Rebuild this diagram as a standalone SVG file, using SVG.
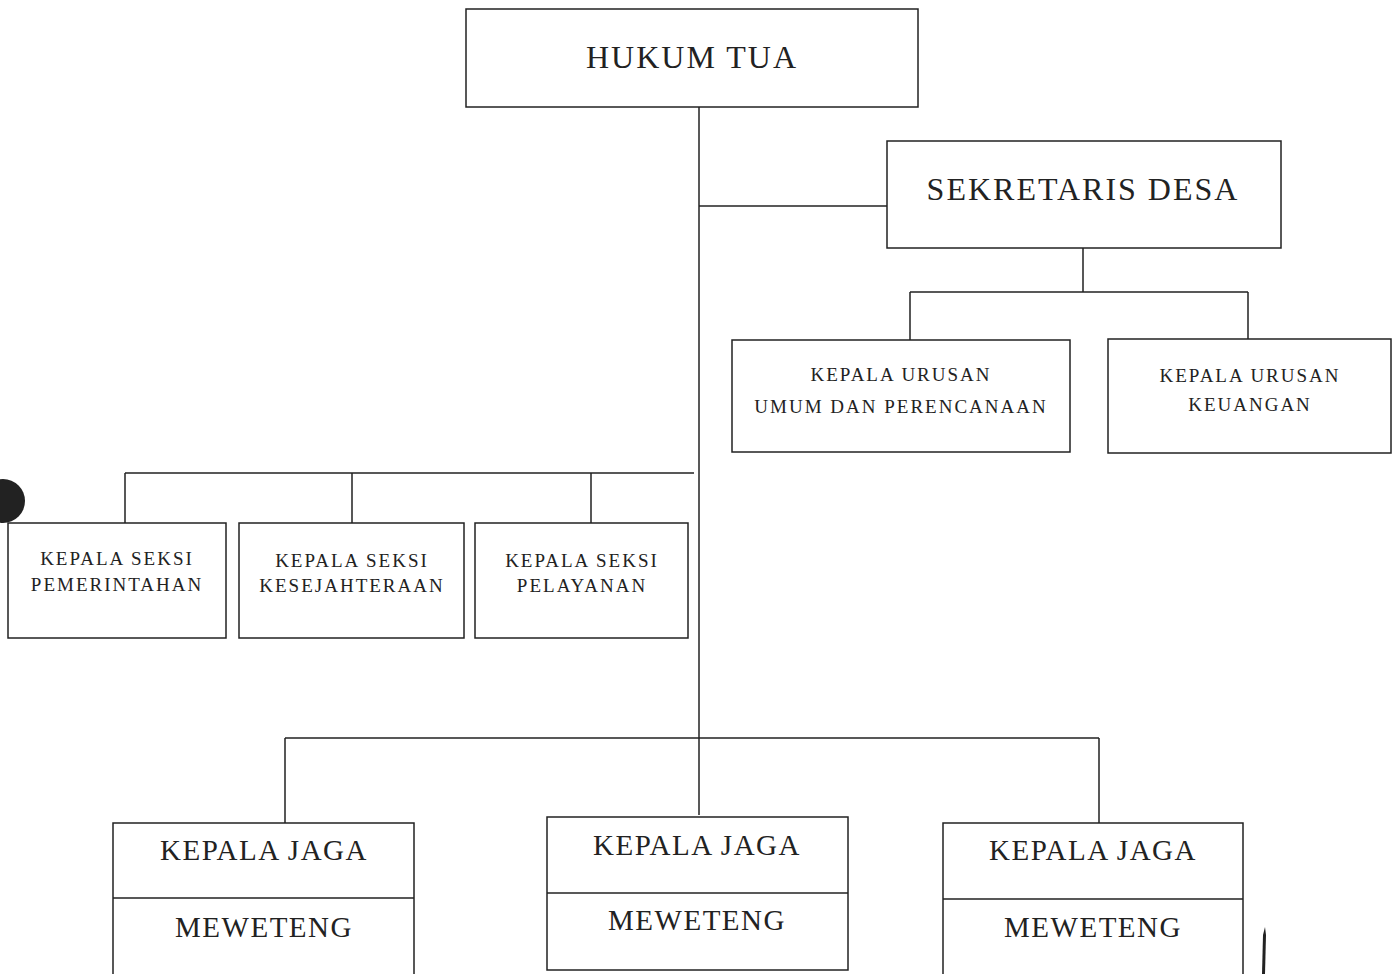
<svg xmlns="http://www.w3.org/2000/svg" width="1393" height="974" viewBox="0 0 1393 974">
<style>
.box{fill:#fff;stroke:#222;stroke-width:1.5}
.ln{fill:none;stroke:#222;stroke-width:1.5}
.t{font-family:"Liberation Serif","Times New Roman",serif;fill:#222;text-anchor:middle}
.big{font-size:32px;letter-spacing:2px}
.mid{font-size:29px;letter-spacing:1.5px}
.sm{font-size:19px;letter-spacing:2px}
</style>
<rect width="1393" height="974" fill="#fff"/>
<g id="connectors">
<path class="ln" d="M699 107V815"/>
<path class="ln" d="M699 206H887"/>
<path class="ln" d="M1083 248V292M910 292H1248M910 292V340M1248 292V339"/>
<path class="ln" d="M125 473H694M125 473V523M352 473V523M591 473V523"/>
<path class="ln" d="M285 738H1099M285 738V823M1099 738V823"/>
</g>
<g id="hukum-tua">
<rect class="box" x="466" y="9" width="452" height="98"/>
<text class="t big" x="692" y="68">HUKUM TUA</text>
</g>
<g id="sekretaris-desa">
<rect class="box" x="887" y="141" width="394" height="107"/>
<text class="t big" x="1083" y="200">SEKRETARIS DESA</text>
</g>
<g id="kaur-umum">
<rect class="box" x="732" y="340" width="338" height="112"/>
<text class="t sm" x="901" y="381">KEPALA URUSAN</text>
<text class="t sm" x="901" y="413">UMUM DAN PERENCANAAN</text>
</g>
<g id="kaur-keuangan">
<rect class="box" x="1108" y="339" width="283" height="114"/>
<text class="t sm" x="1250" y="382">KEPALA URUSAN</text>
<text class="t sm" x="1250" y="411">KEUANGAN</text>
</g>
<g id="kasi-pemerintahan">
<rect class="box" x="8" y="523" width="218" height="115"/>
<text class="t sm" x="117" y="565">KEPALA SEKSI</text>
<text class="t sm" x="117" y="591">PEMERINTAHAN</text>
</g>
<g id="kasi-kesejahteraan">
<rect class="box" x="239" y="523" width="225" height="115"/>
<text class="t sm" x="352" y="567">KEPALA SEKSI</text>
<text class="t sm" x="352" y="592">KESEJAHTERAAN</text>
</g>
<g id="kasi-pelayanan">
<rect class="box" x="475" y="523" width="213" height="115"/>
<text class="t sm" x="582" y="567">KEPALA SEKSI</text>
<text class="t sm" x="582" y="592">PELAYANAN</text>
</g>
<g id="jaga-1">
<path class="ln" d="M113 974V823H414V974M113 898H414"/>
<text class="t mid" x="264" y="860">KEPALA JAGA</text>
<text class="t mid" x="264" y="937">MEWETENG</text>
</g>
<g id="jaga-2">
<rect class="box" x="547" y="817" width="301" height="153"/>
<path class="ln" d="M547 893H848"/>
<text class="t mid" x="697" y="855">KEPALA JAGA</text>
<text class="t mid" x="697" y="930">MEWETENG</text>
</g>
<g id="jaga-3">
<path class="ln" d="M943 974V823H1243V974M943 899H1243"/>
<text class="t mid" x="1093" y="860">KEPALA JAGA</text>
<text class="t mid" x="1093" y="937">MEWETENG</text>
</g>
<circle cx="3" cy="501" r="22" fill="#222"/>
<path d="M1262 974L1263 935L1265 927L1266 935L1265 974Z" fill="#222"/>
</svg>
